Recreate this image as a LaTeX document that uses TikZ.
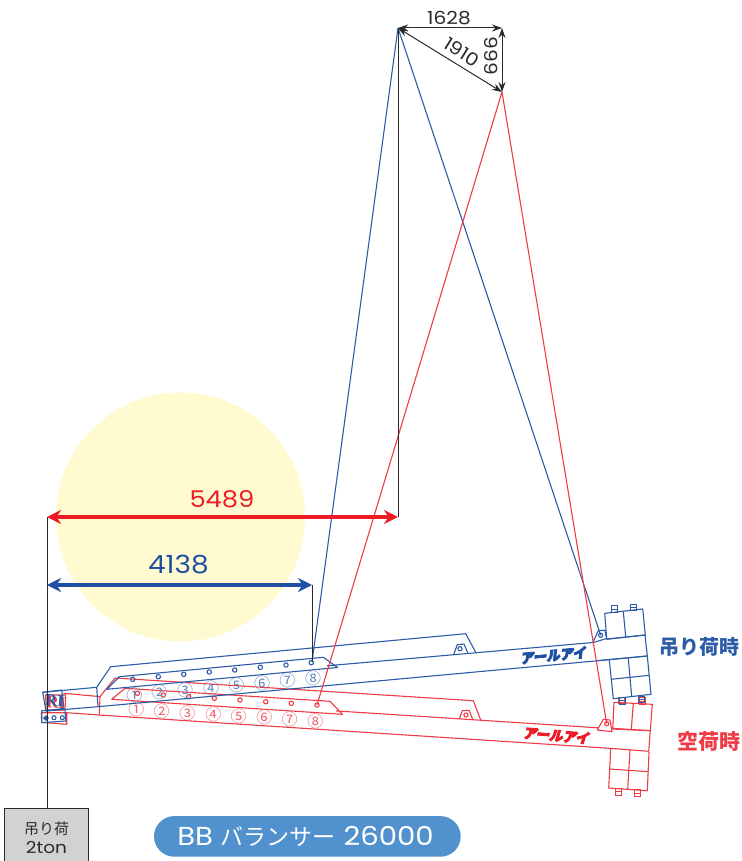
\documentclass[tikz,border=0pt]{standalone}
\usepackage{fontspec}
\usetikzlibrary{arrows.meta}
\setmainfont[FakeStretch=1.12]{Poppins}
\newfontfamily\cjk{Noto Sans CJK JP}
\newfontfamily\logofont[FakeSlant=0.2,FakeBold=6]{Noto Sans CJK JP}
\newfontfamily\serifrl{Liberation Serif}
\definecolor{lnred}{HTML}{EE3B45}
\definecolor{lnblue}{HTML}{2C5CA8}
\definecolor{arred}{HTML}{ED1C24}
\definecolor{arblue}{HTML}{1F4FA2}
\definecolor{ink}{HTML}{2B2B2B}
\definecolor{halo}{HTML}{FFFAD0}
\definecolor{pill}{HTML}{5091CE}
\definecolor{loadbox}{HTML}{D1D2D4}
\tikzset{
  redln/.style={draw=lnred,line width=1.1pt,line join=round},
  blueln/.style={draw=lnblue,line width=1.1pt,line join=round},
  dimarrow/.style={draw=ink,line width=1pt,{Stealth[length=10pt,width=7pt]}-{Stealth[length=10pt,width=7pt]}},
  bigred/.style={draw=arred,line width=3.4pt,{Stealth[length=14pt,width=14pt]}-{Stealth[length=14pt,width=14pt]}},
  bigblue/.style={draw=arblue,line width=3.4pt,{Stealth[length=14pt,width=14pt]}-{Stealth[length=14pt,width=14pt]}},
  plumb/.style={draw=ink,line width=0.8pt},
  txt/.style={inner sep=0pt,text=ink},
  circnum/.style={inner sep=0pt,font=\cjk\fontsize{16}{16}\selectfont},
}
\newcommand{\boltmark}[3]{%
  \draw[#3,line width=1pt] (#1-3,#2-3.3) rectangle (#1+3,#2+3.3);
  \draw[#3,line width=1pt] (#1-3,#2) -- (#1+3,#2);
}
\begin{document}
\begin{tikzpicture}[x=1pt,y=-1pt]
\useasboundingbox (0,0) rectangle (741,861);
\fill[halo] (180.5,517) circle[radius=124.5];

% named points
\coordinate (apex) at (398,28);
\coordinate (corner) at (502,28);
\coordinate (tip) at (502,92);
\coordinate (bluepin) at (312,662);
\coordinate (blueend) at (600.7,635.3);
\coordinate (redpin) at (317,705);
\coordinate (redend) at (606.7,723.7);
\coordinate (plumbtop) at (47,517);
\coordinate (plumbbase) at (47,808);
\coordinate (redfoot) at (398,517);
\coordinate (bluefoot) at (312,585);
\coordinate (bluestart) at (47,585);

% ---------- red boom
\draw[redln] (63.3,693.3) -- (100,696.6) -- (115,678) -- (473.3,700.7) -- (480.7,720);
\draw[redln] (100,696.6) -- (99.3,715);
\draw[redln] (125,688.3) -- (330,701.3) -- (342.3,714.3) -- (111.7,699.3) -- cycle;
\draw[redln] (336,710.9) -- (598,727.8);
\draw[redln] (66.7,712.7) -- (99.3,715) -- (610,748.3) -- (648.7,751.3);
\draw[redln] (459.3,719) -- (462.3,710.7) -- (469,710.3) -- (473,720);
\draw[redln] (466,715) circle[radius=2.1];
\draw[redln] (597.3,730) -- (603.3,719.3) -- (610,720) -- (612,731.7) -- cycle;
\draw[redln] (606.7,723.7) circle[radius=2.1];
\draw[redln] (612,729) -- (650.3,730.7) -- (648.7,751.3);
\draw[redln] (614,702.3) -- (652.3,704.3) -- (650.3,730.7) -- (612.7,728.3) -- cycle;
\draw[redln] (633.3,703.3) -- (631.3,729.3);
\draw[redln] (610.7,749) -- (608.7,788) -- (647.3,790.7) -- (649,752);
\draw[redln] (609.7,769) -- (648.3,771.7);
\draw[redln] (630,750) -- (627.7,789.3);
\boltmark{621.5}{700.5}{lnred}
\boltmark{642}{701}{lnred}
\boltmark{618}{791.7}{lnred}
\boltmark{637.3}{793}{lnred}
\foreach \px/\py in {137.3/693.3,163.3/695,188.7/696.7,214.3/698.3,240/700,265.7/701.7,291.3/703.3,317/705}
  \draw[redln] (\px,\py) circle[radius=2.2];
\foreach \px/\py/\lab [count=\i] in {136.3/709.3/①,161.7/711/②,187.3/713.3/③,213.3/714.7/④,238.7/716.3/⑤,264.3/717.7/⑥,289.7/719.3/⑦,315.3/721/⑧}
  \node[circnum,text=lnred!80] (rn\i) at (\px,\py) {\lab};
\draw[redln] (45.7,695) -- (65.7,695) -- (65,710) -- (46,710) -- cycle;
\draw[redln] (41.3,712.7) -- (66.7,712.7) -- (66.7,724.3) -- (41.7,722.3) -- cycle;
\node[inner sep=0pt,text=lnred,font=\serifrl\bfseries\fontsize{17}{17}\selectfont,rotate=-4] (rired) at (56,702.5) {RI};
\node[inner sep=0pt,text=arred,rotate=-5,font=\logofont\bfseries\fontsize{13.5}{13.5}\selectfont] (logored) at (556,735.5) {アールアイ};

% ---------- blue boom
\draw[blueln] (42.7,692.3) -- (96.7,687.3) -- (110.7,666.7) -- (465.7,633.7) -- (475.7,652.3);
\draw[blueln] (96.7,687.3) -- (98,706.7);
\draw[blueln] (119.3,676.7) -- (323.3,657.3) -- (337.7,667.5) -- (106.7,689.3) -- cycle;
\draw[blueln] (327,665.8) -- (593,642.5);
\draw[blueln] (46,711) -- (98,706.7) -- (609,659.7) -- (647.3,656);
\draw[blueln] (454,653.7) -- (457.3,644.7) -- (464,644) -- (467.7,652.7);
\draw[blueln] (460,648.7) circle[radius=2.1];
\draw[blueln] (592.7,642.7) -- (598.3,630.7) -- (604.7,630.2) -- (606.7,638.5) -- cycle;
\draw[blueln] (600.7,635.3) circle[radius=2.1];
\draw[blueln] (604.7,613.3) -- (642.7,609) -- (645.3,635) -- (606.7,639);
\draw[blueln] (604.7,613.3) -- (606.7,639);
\draw[blueln] (623.3,611.7) -- (625.7,636.7);
\draw[blueln] (606.7,639.3) -- (645,635) -- (647.3,656) -- (596.7,660.7);
\draw[blueln] (609.3,660) -- (613.3,698.7) -- (651,694.3) -- (647.3,656);
\draw[blueln] (611,679.3) -- (649,675.3);
\draw[blueln] (628.3,658.3) -- (631.7,696.7);
\boltmark{614}{609}{lnblue}
\boltmark{633}{607.3}{lnblue}
\boltmark{622}{700.7}{lnblue}
\boltmark{641.7}{699.3}{lnblue}
\foreach \px/\py in {132.7/679.3,158.3/676.7,183.7/674.3,209.3/672,234.7/670,260.3/667.3,286/665,311.3/662.7}
  \draw[blueln] (\px,\py) circle[radius=2.2];
\foreach \px/\py/\lab [count=\i] in {134.3/695.3/①,159.3/692.7/②,185/690/③,211/688.3/④,236.3/685.7/⑤,262/683.3/⑥,287.3/680.7/⑦,313/678.3/⑧}
  \node[circnum,text=lnblue!75] (bn\i) at (\px,\py) {\lab};
\draw[blueln] (42.7,692.3) -- (61.7,690) -- (64,708.3) -- (46,711) -- cycle;
\draw[blueln] (41.7,710.7) -- (65,709.3) -- (65.7,721) -- (41.7,722.7) -- cycle;
\node[inner sep=0pt,text=lnblue,font=\serifrl\bfseries\fontsize{17}{17}\selectfont,rotate=-4] (riblue) at (54.5,701) {RI};
\fill[lnblue] (46,715) -- (49,718) -- (46,721) -- (43,718) -- cycle;
\draw[blueln] (54,717.7) circle[radius=2];
\draw[blueln] (62.3,717.7) circle[radius=2];
\node[inner sep=0pt,text=arblue,rotate=5.5,font=\logofont\bfseries\fontsize{13.5}{13.5}\selectfont] (logoblue) at (553,655.3) {アールアイ};

% ---------- cables
\draw[draw=lnblue,line width=1.1pt] (apex) -- (bluepin);
\draw[draw=lnblue,line width=1.1pt] (apex) -- (blueend);
\draw[draw=lnred,line width=1.1pt] (tip) -- (redpin);
\draw[draw=lnred,line width=1.1pt] (tip) -- (redend);

% ---------- plumb lines
\draw[plumb] (apex) -- (redfoot);
\draw[plumb] (bluefoot) -- (bluepin);
\draw[plumb] (plumbtop) -- (plumbbase);

% ---------- dimensions
\draw[dimarrow] (apex) -- (corner);
\draw[dimarrow] (corner) -- (tip);
\draw[dimarrow] (apex) -- (tip);
\draw[bigred] (plumbtop) -- (redfoot);
\draw[bigblue] (bluestart) -- (bluefoot);
\node[txt,font=\fontsize{18}{18}\selectfont] (d1628) at (449,18) {1628};
\node[txt,font=\fontsize{18}{18}\selectfont,rotate=-32] (d1910) at (462,52) {1910};
\node[txt,font=\fontsize{18}{18}\selectfont,rotate=-90] (d999) at (491.5,56) {999};
\node[inner sep=0pt,text=arred,font=\fontsize{23}{23}\selectfont] (d5489) at (222,499) {5489};
\node[inner sep=0pt,text=arblue,font=\fontsize{25}{25}\selectfont] (d4138) at (178.5,565) {4138};

% ---------- labels
\node[inner sep=0pt,text=lnblue,font=\cjk\bfseries\fontsize{20}{20}\selectfont] (lload) at (699.5,647) {吊り荷時};
\node[inner sep=0pt,text=lnred,font=\cjk\bfseries\fontsize{21}{21}\selectfont] (lempty) at (709,742) {空荷時};
\path[draw=ink,line width=1pt,fill=loadbox] (4.5,870) -- (4.5,808) -- (88,808) -- (88,870);
\node[txt,font=\cjk\fontsize{15}{15}\selectfont] (loadtxt) at (46.5,829) {吊り荷};
\node[txt,font=\fontsize{16.5}{16.5}\selectfont] (loadton) at (46.5,847.5) {2ton};
\fill[pill] (174.3,816.1) -- (440.4,816.1) arc[start angle=-90,end angle=90,radius=20.3] -- (174.3,856.7) arc[start angle=90,end angle=270,radius=20.3] -- cycle;
\node[inner sep=0pt,text=white,font=\fontsize{26}{26}\selectfont] (title) at (305.5,836.4) {BB {\cjk\fontsize{23}{23}\selectfont バランサー} 26000};
\end{tikzpicture}
\end{document}
